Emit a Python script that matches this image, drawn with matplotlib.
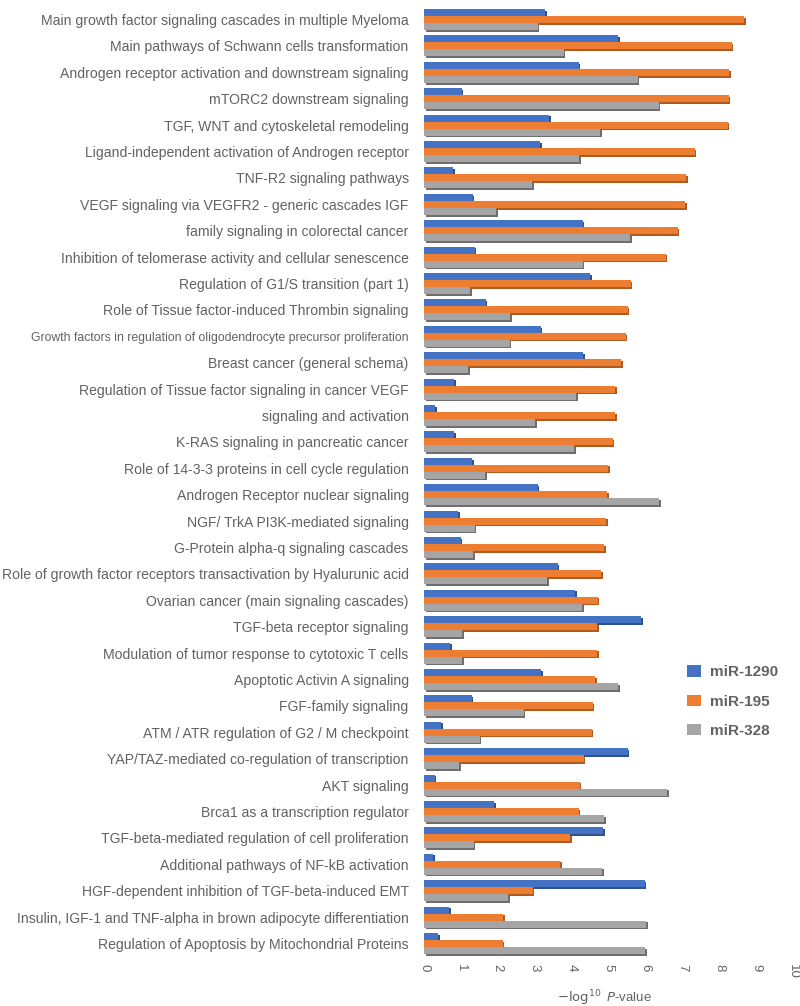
import matplotlib
matplotlib.use("Agg")
import matplotlib.pyplot as plt
import matplotlib.patheffects as pe
import matplotlib.transforms as mtransforms
from matplotlib.patches import Patch
import numpy as np

plt.rcParams["font.family"] = ["Liberation Sans", "DejaVu Sans"]

# Pathway names, top to bottom
pathways = [
    "Main growth factor signaling cascades in multiple Myeloma",
    "Main pathways of Schwann cells transformation",
    "Androgen receptor activation and downstream signaling",
    "mTORC2 downstream signaling",
    "TGF, WNT and cytoskeletal remodeling",
    "Ligand-independent activation of Androgen receptor",
    "TNF-R2 signaling pathways",
    "VEGF signaling via VEGFR2 - generic cascades IGF",
    "family signaling in colorectal cancer",
    "Inhibition of telomerase activity and cellular senescence",
    "Regulation of G1/S transition (part 1)",
    "Role of Tissue factor-induced Thrombin signaling",
    "Growth factors in regulation of oligodendrocyte precursor proliferation",
    "Breast cancer (general schema)",
    "Regulation of Tissue factor signaling in cancer VEGF",
    "signaling and activation",
    "K-RAS signaling in pancreatic cancer",
    "Role of 14-3-3 proteins in cell cycle regulation",
    "Androgen Receptor nuclear signaling",
    "NGF/ TrkA PI3K-mediated signaling",
    "G-Protein alpha-q signaling cascades",
    "Role of growth factor receptors transactivation by Hyalurunic acid",
    "Ovarian cancer (main signaling cascades)",
    "TGF-beta receptor signaling",
    "Modulation of tumor response to cytotoxic T cells",
    "Apoptotic Activin A signaling",
    "FGF-family signaling",
    "ATM / ATR regulation of G2 / M checkpoint",
    "YAP/TAZ-mediated co-regulation of transcription",
    "AKT signaling",
    "Brca1 as a transcription regulator",
    "TGF-beta-mediated regulation of cell proliferation",
    "Additional pathways of NF-kB activation",
    "HGF-dependent inhibition of TGF-beta-induced EMT",
    "Insulin, IGF-1 and TNF-alpha in brown adipocyte differentiation",
    "Regulation of Apoptosis by Mitochondrial Proteins",
]

# -log10 P-values per microRNA
mir1290 = [3.28, 5.27, 4.19, 1.02, 3.40, 3.15, 0.79, 1.32, 4.30, 1.37,
           4.50, 1.67, 3.16, 4.31, 0.82, 0.31, 0.81, 1.31, 3.08, 0.92,
           0.99, 3.62, 4.10, 5.89, 0.71, 3.17, 1.29, 0.46, 5.52, 0.29,
           1.90, 4.86, 0.25, 5.98, 0.69, 0.38]
mir195 = [8.69, 8.34, 8.28, 8.26, 8.23, 7.34, 7.11, 7.08, 6.88, 6.55,
          5.60, 5.52, 5.47, 5.34, 5.18, 5.19, 5.12, 5.00, 4.96, 4.94,
          4.89, 4.81, 4.71, 4.69, 4.69, 4.65, 4.57, 4.55, 4.33, 4.22,
          4.19, 3.96, 3.69, 2.95, 2.15, 2.13]
mir328 = [3.08, 3.79, 5.79, 6.36, 4.78, 4.21, 2.93, 1.96, 5.59, 4.30,
          1.25, 2.34, 2.32, 1.19, 4.12, 3.01, 4.07, 1.66, 6.38, 1.37,
          1.33, 3.34, 4.29, 1.03, 1.03, 5.27, 2.70, 1.51, 0.96, 6.59,
          4.88, 1.35, 4.83, 2.29, 6.02, 5.99]

series = [("miR-1290", mir1290, "#4472C4", "#2F528F"),
          ("miR-195", mir195, "#ED7D31", "#AE5A21"),
          ("miR-328", mir328, "#A5A5A5", "#6E6E6E")]

text_color = "#626262"

fig = plt.figure(figsize=(8, 10.06), dpi=100)
ax = fig.add_axes([0.53, 0.049, 0.461, 0.946])

y = np.arange(len(pathways))
h = 0.265
handles = []
for k, (name, vals, color, shade) in enumerate(series):
    bars = ax.barh(y - h + k * h, vals, height=h, color=color)
    for b in bars:
        b.set_path_effects([pe.SimplePatchShadow(offset=(1.2, -1.2),
                                                 shadow_rgbFace=shade, alpha=1.0),
                            pe.Normal()])
    handles.append(Patch(facecolor=color, label=name))

ax.set_xlim(0, 10)
ax.set_ylim(len(pathways) - 0.5, -0.55)
ax.set_xticks(range(0, 11))
ax.set_xticklabels([str(i) for i in range(0, 11)], rotation=270,
                   color=text_color, fontsize=9.5)
# the rotated numbers sit a little right of each tick in the original
shift = mtransforms.ScaledTranslation(5 / 100, 0, fig.dpi_scale_trans)
for lbl in ax.get_xticklabels():
    lbl.set_transform(lbl.get_transform() + shift)
ax.set_yticks(y)
ax.set_yticklabels(pathways, color=text_color, fontsize=10.1)
for lbl in ax.get_yticklabels():
    if lbl.get_text().startswith("Growth factors"):
        lbl.set_fontsize(8.8)
ax.tick_params(axis="both", length=0)
ax.tick_params(axis="y", pad=11)
ax.tick_params(axis="x", pad=5)
for s in ax.spines.values():
    s.set_visible(False)

fig.text(604 / 800, 1 - 998 / 1006, r"$-\log^{10}$ $P$-value", ha="center",
         va="center", color=text_color, fontsize=9.5, math_fontfamily="dejavusans")

leg = ax.legend(handles=handles, loc="center left", bbox_to_anchor=(0.676, 0.268),
                frameon=False, handlelength=0.9, handleheight=0.75,
                handletextpad=0.6, labelspacing=1.0,
                prop={"weight": "bold", "size": 11})
for t in leg.get_texts():
    t.set_color(text_color)

fig.savefig("out.png", dpi=100)
